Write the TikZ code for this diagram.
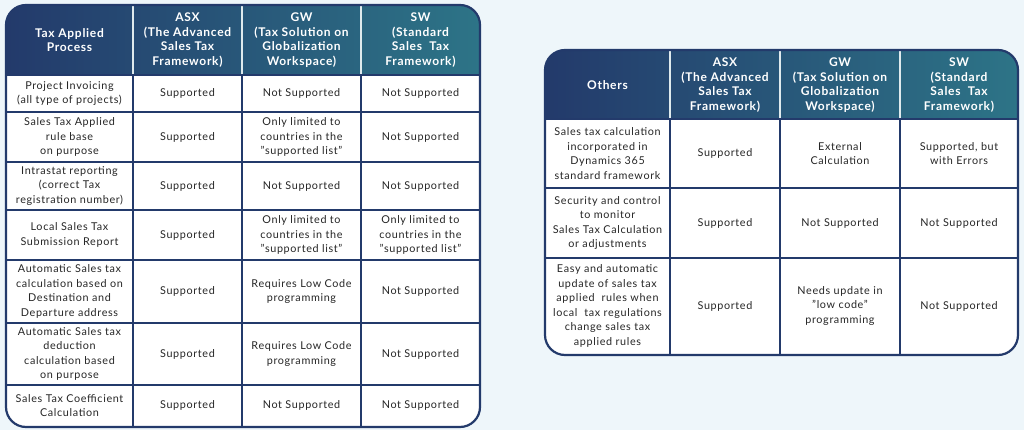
\documentclass[tikz,border=0pt]{standalone}
\usepackage{fontspec}
\setmainfont{Lato}[LetterSpace=6]
\begin{document}
\begin{tikzpicture}[x=1pt,y=-1pt,
  hd/.style={font=\fontsize{12}{14.5}\selectfont\bfseries, text=white, align=center},
  cl/.style={font=\fontsize{10.8}{14.5}\selectfont, text=black!85, align=center},
  grid/.style={draw=navy, line width=1.4pt},
  frame/.style={draw=navy, line width=2.2pt, rounded corners=20pt}]
\definecolor{navy}{HTML}{233A6B}
\definecolor{teal}{HTML}{2D7487}
\definecolor{bg}{HTML}{EEF6FA}
\useasboundingbox (0,0) rectangle (1024,430);
\fill[bg] (0,0) rectangle (1024,430);
% ---------- left table
\fill[white, rounded corners=20pt] (6,5) rectangle (480,427);
\begin{scope}
\clip[rounded corners=20pt] (6,5) rectangle (480,427);
\shade[left color=navy, right color=teal] (6,5) rectangle (480,75);
\end{scope}
\foreach \x in {133,242,361} {\draw[white!85!teal, line width=1.4pt] (\x,5) -- (\x,75); \draw[grid] (\x,75) -- (\x,427);}
\foreach \y in {112,162,210,260,323,385} \draw[grid] (6,\y) -- (480,\y);
\draw[grid] (6,75) -- (480,75);
\draw[frame] (6,5) rectangle (480,427);
\node[hd] (lh0) at (69.5,40) {Tax Applied\\Process};
\node[hd] (lh1) at (187.5,40) {ASX\\(The Advanced\\Sales Tax\\Framework)};
\node[hd] (lh2) at (301.5,40) {GW\\(Tax Solution on\\Globalization\\Workspace)};
\node[hd] (lh3) at (420.5,40) {SW\\(Standard\\Sales\ \ Tax\\Framework)};
% rows
\node[cl] (a0) at (69.5,93.5) {Project Invoicing\\(all type of projects)};
\node[cl] (a1) at (187.5,93.5) {Supported};
\node[cl] (a2) at (301.5,93.5) {Not Supported};
\node[cl] (a3) at (420.5,93.5) {Not Supported};
\node[cl] (b0) at (69.5,137) {Sales Tax Applied\\rule base\\on purpose};
\node[cl] (b1) at (187.5,137) {Supported};
\node[cl] (b2) at (301.5,137) {Only limited to\\countries in the\\"supported list"};
\node[cl] (b3) at (420.5,137) {Not Supported};
\node[cl] (c0) at (69.5,186) {Intrastat reporting\\(correct Tax\\registration number)};
\node[cl] (c1) at (187.5,186) {Supported};
\node[cl] (c2) at (301.5,186) {Not Supported};
\node[cl] (c3) at (420.5,186) {Not Supported};
\node[cl] (d0) at (69.5,235) {Local Sales Tax\\Submission Report};
\node[cl] (d1) at (187.5,235) {Supported};
\node[cl] (d2) at (301.5,235) {Only limited to\\countries in the\\"supported list"};
\node[cl] (d3) at (420.5,235) {Only limited to\\countries in the\\"supported list"};
\node[cl] (e0) at (69.5,291.5) {Automatic Sales tax\\calculation based on\\Destination and\\Departure address};
\node[cl] (e1) at (187.5,291.5) {Supported};
\node[cl] (e2) at (301.5,291.5) {Requires Low Code\\programming};
\node[cl] (e3) at (420.5,291.5) {Not Supported};
\node[cl] (f0) at (69.5,354) {Automatic Sales tax\\deduction\\calculation based\\on purpose};
\node[cl] (f1) at (187.5,354) {Supported};
\node[cl] (f2) at (301.5,354) {Requires Low Code\\programming};
\node[cl] (f3) at (420.5,354) {Not Supported};
\node[cl] (g0) at (69.5,405.5) {Sales Tax Coefficient\\Calculation};
\node[cl] (g1) at (187.5,405.5) {Supported};
\node[cl] (g2) at (301.5,405.5) {Not Supported};
\node[cl] (g3) at (420.5,405.5) {Not Supported};
% ---------- right table
\fill[white, rounded corners=20pt] (545,50) rectangle (1018,355);
\begin{scope}
\clip[rounded corners=20pt] (545,50) rectangle (1018,355);
\shade[left color=navy, right color=teal] (545,50) rectangle (1018,119);
\end{scope}
\foreach \x in {670,780,900} {\draw[white!85!teal, line width=1.4pt] (\x,50) -- (\x,119); \draw[grid] (\x,119) -- (\x,355);}
\foreach \y in {119,188,258} \draw[grid] (545,\y) -- (1018,\y);
\draw[frame] (545,50) rectangle (1018,355);
\node[hd] (rh0) at (607.5,85) {Others};
\node[hd] (rh1) at (725,85) {ASX\\(The Advanced\\Sales Tax\\Framework)};
\node[hd] (rh2) at (840,85) {GW\\(Tax Solution on\\Globalization\\Workspace)};
\node[hd] (rh3) at (959,85) {SW\\(Standard\\Sales\ \ Tax\\Framework)};
\node[cl] (p0) at (607.5,153.5) {Sales tax calculation\\incorporated in\\Dynamics 365\\standard framework};
\node[cl] (p1) at (725,153.5) {Supported};
\node[cl] (p2) at (840,153.5) {External\\Calculation};
\node[cl] (p3) at (959,153.5) {Supported, but\\with Errors};
\node[cl] (q0) at (607.5,223) {Security and control\\to monitor\\Sales Tax Calculation\\or adjustments};
\node[cl] (q1) at (725,223) {Supported};
\node[cl] (q2) at (840,223) {Not Supported};
\node[cl] (q3) at (959,223) {Not Supported};
\node[cl] (s0) at (607.5,306) {Easy and automatic\\update of sales tax\\applied\ \ rules when\\local\ \ tax regulations\\change sales tax\\applied rules};
\node[cl] (s1) at (725,306) {Supported};
\node[cl] (s2) at (840,306) {Needs update in\\"low code"\\programming};
\node[cl] (s3) at (959,306) {Not Supported};
\end{tikzpicture}
\end{document}
